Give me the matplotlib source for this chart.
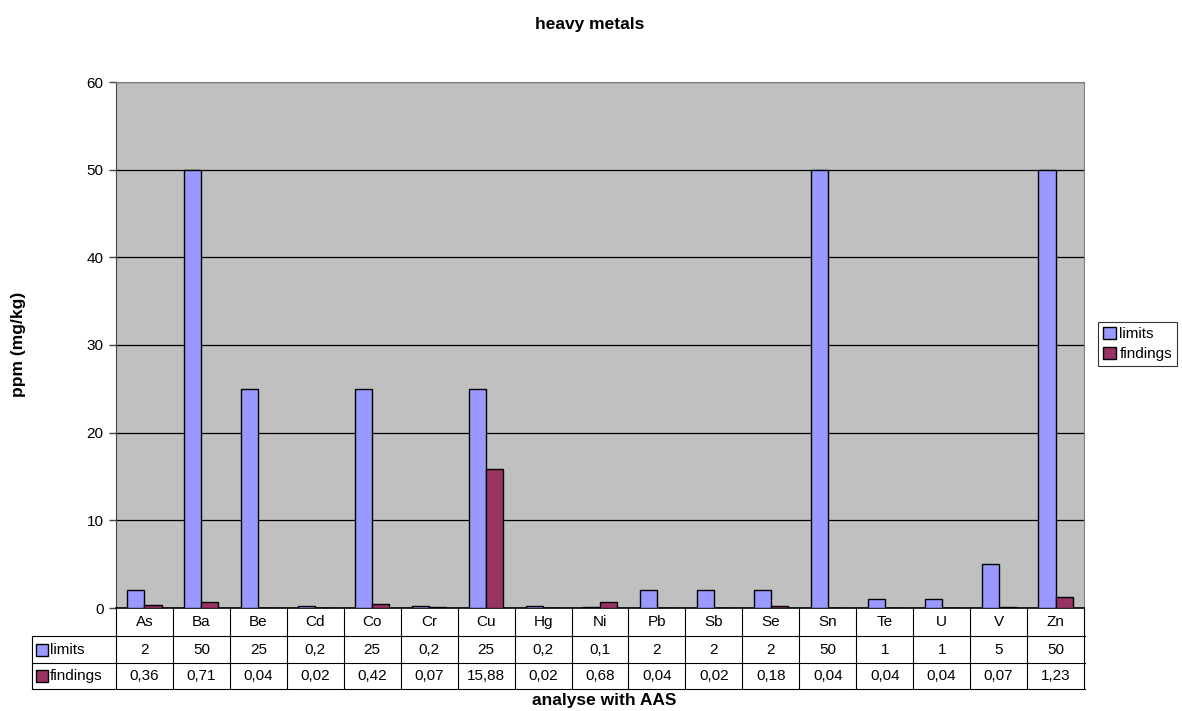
import matplotlib
matplotlib.use("Agg")
from matplotlib import pyplot as plt
from matplotlib.patches import Patch
from matplotlib.lines import Line2D
import numpy as np

plt.rcParams['font.family'] = ['Liberation Sans', 'DejaVu Sans']

metals = ["As", "Ba", "Be", "Cd", "Co", "Cr", "Cu", "Hg", "Ni", "Pb", "Sb", "Se", "Sn", "Te", "U", "V", "Zn"]
limits = [2, 50, 25, 0.2, 25, 0.2, 25, 0.2, 0.1, 2, 2, 2, 50, 1, 1, 5, 50]
findings = [0.36, 0.71, 0.04, 0.02, 0.42, 0.07, 15.88, 0.02, 0.68, 0.04, 0.02, 0.18, 0.04, 0.04, 0.04, 0.07, 1.23]

LIMIT_COLOR = "#9999FF"
FIND_COLOR = "#993366"
FS = 11      # normal text
FS_B = 12.5  # bold titles

W, H = 1182, 711
fig = plt.figure(figsize=(W / 100, H / 100), dpi=100)

# plot area in pixels
px_left, px_right, px_top, px_bottom = 116, 1084, 82, 608
ax = fig.add_axes([px_left / W, 1 - px_bottom / H, (px_right - px_left) / W, (px_bottom - px_top) / H])
ax.set_facecolor("#C0C0C0")

x = np.arange(len(metals))
bw = 0.3
ax.bar(x - bw / 2, limits, bw, color=LIMIT_COLOR, edgecolor="black", linewidth=1, zorder=3)
ax.bar(x + bw / 2, findings, bw, color=FIND_COLOR, edgecolor="black", linewidth=1, zorder=3)

ax.set_xlim(-0.5, len(metals) - 0.5)
ax.set_ylim(0, 60)
ax.set_yticks(range(0, 61, 10))
ax.yaxis.grid(True, color="black", linewidth=0.9, zorder=1)
ax.set_xticks([])
ax.tick_params(axis="y", labelsize=FS, length=5, color="#444444", width=1, pad=4)
for s in ["top", "right"]:
    ax.spines[s].set_color("#808080")
ax.spines["left"].set_color("#444444")
ax.spines["bottom"].set_color("black")
ax.spines["bottom"].set_linewidth(1.2)

# data table below the plot
def fx(px):
    return px / W

def fy(py):
    return 1 - py / H

col_w = (px_right - px_left) / len(metals)
row_y = [608, 636, 663, 689]
tbl_left = 32
lc = "black"
lw = 0.8
# horizontal lines
for ry in row_y[1:]:
    fig.add_artist(Line2D([fx(tbl_left), fx(px_right + 1)], [fy(ry)] * 2, color=lc, lw=lw))
# vertical lines
fig.add_artist(Line2D([fx(tbl_left)] * 2, [fy(row_y[1]), fy(row_y[3])], color=lc, lw=lw))
for i in range(len(metals) + 1):
    xx = px_left + i * col_w
    fig.add_artist(Line2D([fx(xx)] * 2, [fy(row_y[0]), fy(row_y[3])], color=lc, lw=lw))

def fmt(v):
    return ("%g" % v).replace(".", ",")

for i, m in enumerate(metals):
    cx = fx(px_left + (i + 0.5) * col_w)
    fig.text(cx, fy((row_y[0] + row_y[1]) / 2), m, ha="center", va="center", fontsize=FS)
    fig.text(cx, fy((row_y[1] + row_y[2]) / 2), fmt(limits[i]), ha="center", va="center", fontsize=FS)
    fig.text(cx, fy((row_y[2] + row_y[3]) / 2), fmt(findings[i]), ha="center", va="center", fontsize=FS)

# row headers with colour keys
for r, (name, col) in enumerate([("limits", LIMIT_COLOR), ("findings", FIND_COLOR)]):
    yc = (row_y[r + 1] + row_y[r + 2]) / 2
    fig.add_artist(plt.Rectangle((fx(36), fy(yc + 6)), 12 / W, 12 / H, facecolor=col,
                                 edgecolor="black", lw=1, transform=fig.transFigure))
    fig.text(fx(50), fy(yc), name, ha="left", va="center", fontsize=FS)

fig.text(fx(590), fy(24), "heavy metals", ha="center", va="center", fontsize=FS_B, fontweight="bold")
fig.text(fx(19), fy(344), "ppm (mg/kg)", ha="center", va="center", fontsize=FS_B,
         fontweight="bold", rotation=90)
fig.text(fx(604), fy(701), "analyse with AAS", ha="center", va="center", fontsize=FS_B, fontweight="bold")

handles = [Patch(facecolor=LIMIT_COLOR, edgecolor="black", label="limits"),
           Patch(facecolor=FIND_COLOR, edgecolor="black", label="findings")]
leg = fig.legend(handles=handles, loc="upper left", bbox_to_anchor=(fx(1098), fy(322)),
                 fontsize=FS, frameon=True, fancybox=False, edgecolor="black",
                 handlelength=0.8, handleheight=0.8, handletextpad=0.25,
                 borderpad=0.35, labelspacing=0.35, borderaxespad=0)
leg.get_frame().set_linewidth(0.8)

fig.savefig("out.png", dpi=100)
